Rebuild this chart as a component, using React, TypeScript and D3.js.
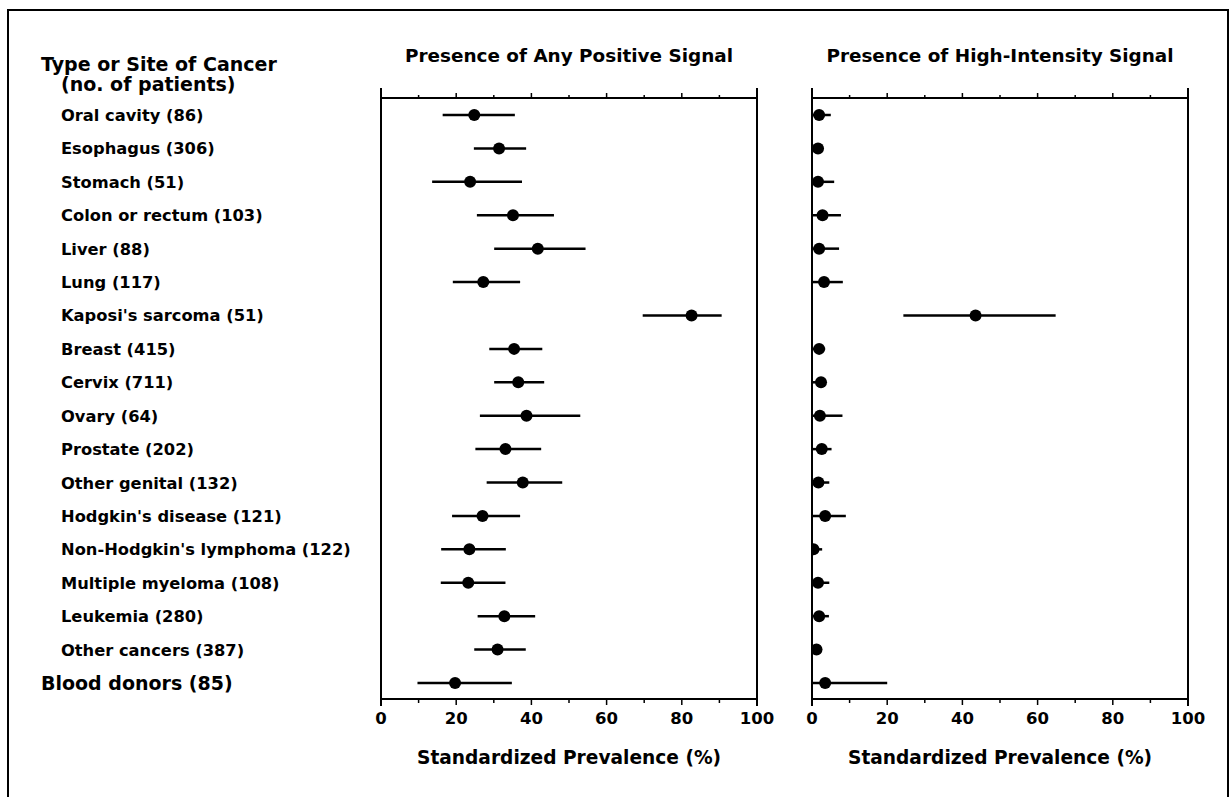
import React from "react";
import * as d3 from "d3";

const categories = [
  "Oral cavity (86)",
  "Esophagus (306)",
  "Stomach (51)",
  "Colon or rectum (103)",
  "Liver (88)",
  "Lung (117)",
  "Kaposi's sarcoma (51)",
  "Breast (415)",
  "Cervix (711)",
  "Ovary (64)",
  "Prostate (202)",
  "Other genital (132)",
  "Hodgkin's disease (121)",
  "Non-Hodgkin's lymphoma (122)",
  "Multiple myeloma (108)",
  "Leukemia (280)",
  "Other cancers (387)",
  "Blood donors (85)",
];

// Presence of any positive signal (%): estimate, lower, upper
const anyEst = [24.8, 31.4, 23.7, 35.1, 41.7, 27.2, 82.6, 35.4, 36.5, 38.7, 33.1, 37.7, 27.0, 23.5, 23.2, 32.8, 31.0, 19.7];
const anyLo = [16.4, 24.7, 13.6, 25.5, 30.1, 19.1, 69.6, 28.8, 30.1, 26.3, 25.1, 28.1, 18.9, 16.0, 15.9, 25.7, 24.8, 9.7];
const anyHi = [35.6, 38.6, 37.5, 46.0, 54.4, 37.0, 90.6, 42.9, 43.4, 53.0, 42.6, 48.2, 37.0, 33.2, 33.1, 41.0, 38.5, 34.8];

// Presence of high-intensity signal (%)
const highEst = [1.9, 1.6, 1.6, 2.8, 1.9, 3.2, 43.5, 1.9, 2.4, 2.1, 2.6, 1.7, 3.5, 0.4, 1.6, 1.9, 1.2, 3.5];
const highLo = [0, 0, 0, 0, 0, 0, 24.3, 0, 0, 0, 0, 0, 0, 0, 0, 0, 0, 0];
const highHi = [5.0, 2.0, 5.9, 7.7, 7.2, 8.2, 64.8, 3.5, 3.5, 8.1, 5.2, 4.6, 9.0, 2.7, 4.6, 4.5, 1.5, 20.0];

const xTicks = [0, 20, 40, 60, 80, 100];
const minorTicks = [10, 30, 50, 70, 90];

const FONT = "'DejaVu Sans', sans-serif";

const panelTop = 98;
const panelBottom = 699;

const y = d3.scalePoint<string>().domain(categories).range([115, 683]);

function Panel({ id, x0, x1, title, est, lo, hi }: any) {
  const x = d3.scaleLinear().domain([0, 100]).range([x0, x1]);
  const cx = (x0 + x1) / 2;
  return (
    <g>
      <defs>
        <clipPath id={id}>
          <rect x={x0} y={panelTop} width={x1 - x0} height={panelBottom - panelTop} />
        </clipPath>
      </defs>
      <text x={cx} y={62} textAnchor="middle" fontFamily={FONT} fontWeight="bold" fontSize={18.4}>
        {title}
      </text>
      <line x1={x0} x2={x1} y1={panelTop} y2={panelTop} stroke="#000" strokeWidth={2} />
      <line x1={x0} x2={x1} y1={panelBottom} y2={panelBottom} stroke="#000" strokeWidth={2} />
      <line x1={x0} x2={x0} y1={panelTop - 10} y2={panelBottom + 7} stroke="#000" strokeWidth={2} />
      <line x1={x1} x2={x1} y1={panelTop - 10} y2={panelBottom + 7} stroke="#000" strokeWidth={2} />
      {[...xTicks.slice(1, -1), ...minorTicks].map((t) => (
        <line key={"tt" + t} x1={x(t)} x2={x(t)} y1={panelTop} y2={panelTop - (t % 20 === 0 ? 5 : 3)} stroke="#000" strokeWidth={1.5} />
      ))}
      {[...xTicks.slice(1, -1), ...minorTicks].map((t) => (
        <line key={"bt" + t} x1={x(t)} x2={x(t)} y1={panelBottom} y2={panelBottom + (t % 20 === 0 ? 6 : 4)} stroke="#000" strokeWidth={1.5} />
      ))}
      {xTicks.map((t) => (
        <text key={"tl" + t} x={x(t)} y={724} textAnchor="middle" fontFamily={FONT} fontWeight="bold" fontSize={16.5}>
          {t}
        </text>
      ))}
      <text x={cx} y={764} textAnchor="middle" fontFamily={FONT} fontWeight="bold" fontSize={18.6}>
        Standardized Prevalence (%)
      </text>
      <g clipPath={`url(#${id})`}>
        {categories.map((c, i) => (
          <g key={c}>
            <line x1={x(lo[i])} x2={x(hi[i])} y1={y(c)} y2={y(c)} stroke="#000" strokeWidth={2.5} />
            <circle cx={x(est[i])} cy={y(c)} r={6} fill="#000" />
          </g>
        ))}
      </g>
    </g>
  );
}

export default function App() {
  return (
    <svg width={1232} height={797} style={{ position: "absolute", left: 0, top: 0, background: "#fff" }}>
      <rect x={0} y={0} width={1232} height={797} fill="#fff" />
      <rect x={8} y={10} width={1220} height={800} fill="none" stroke="#000" strokeWidth={2} />
      <text x={41} y={71} fontFamily={FONT} fontWeight="bold" fontSize={19}>
        Type or Site of Cancer
      </text>
      <text x={61} y={91} fontFamily={FONT} fontWeight="bold" fontSize={19}>
        (no. of patients)
      </text>
      {categories.map((c, i) => {
        const last = i === categories.length - 1;
        return (
          <text
            key={c}
            x={last ? 41 : 61}
            y={(y(c) as number) + (last ? 7 : 6)}
            fontFamily={FONT}
            fontWeight="bold"
            fontSize={last ? 19 : 16.3}
          >
            {c}
          </text>
        );
      })}
      <Panel id="clipA" x0={381} x1={757} title="Presence of Any Positive Signal" est={anyEst} lo={anyLo} hi={anyHi} />
      <Panel id="clipB" x0={812} x1={1188} title="Presence of High-Intensity Signal" est={highEst} lo={highLo} hi={highHi} />
    </svg>
  );
}
